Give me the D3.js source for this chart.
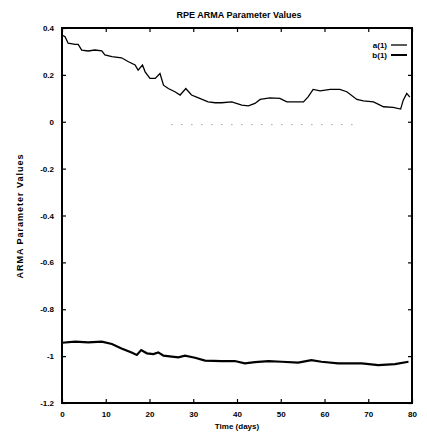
<!DOCTYPE html>
<html>
<head>
<meta charset="utf-8">
<script src="https://cdn.jsdelivr.net/npm/d3@7"></script>
<style>
  body { margin: 0; background: #fff; }
  text { font-family: "Liberation Sans", Arial, sans-serif; font-weight: bold; fill: #000; }
</style>
</head>
<body>
<script>
'use strict';

// a(1) estimate over time: [day, value]
const aSeries = [
    [0, 0.37], [0.7, 0.363], [1.4, 0.335], [3.0, 0.33], [3.7, 0.33], [4.5, 0.306],
    [6.0, 0.302], [7.5, 0.306], [9.1, 0.302], [9.8, 0.285], [11.4, 0.278],
    [13.6, 0.273], [15.2, 0.256], [16.7, 0.242], [17.4, 0.22], [18.4, 0.242],
    [19.0, 0.213], [20.1, 0.185], [21.3, 0.185], [22.4, 0.206], [23.2, 0.156],
    [24.3, 0.142], [25.8, 0.128], [27.0, 0.114], [28.3, 0.142], [29.6, 0.114],
    [31.2, 0.102], [33.4, 0.085], [35.0, 0.081], [36.5, 0.081], [38.8, 0.085],
    [41.1, 0.071], [42.6, 0.068], [44.1, 0.078], [45.3, 0.095], [47.5, 0.102],
    [49.8, 0.1], [51.4, 0.085], [53.6, 0.085], [55.2, 0.085], [56.3, 0.107],
    [57.4, 0.138], [59.0, 0.132], [61.3, 0.138], [63.5, 0.138], [65.1, 0.128],
    [67.4, 0.095], [68.9, 0.089], [71.2, 0.085], [73.5, 0.064], [75.7, 0.061],
    [77.4, 0.054], [78.0, 0.092], [78.8, 0.121], [79.5, 0.105]
];

// b(1) estimate over time
const bSeries = [
    [0, -0.943], [3.0, -0.938], [6.0, -0.941], [9.1, -0.938], [11.4, -0.948],
    [13.6, -0.967], [15.9, -0.985], [17.1, -0.995], [18.1, -0.974], [19.4, -0.988],
    [20.9, -0.991], [22.0, -0.984], [23.2, -0.998], [25.1, -1.002], [26.6, -1.005],
    [28.1, -0.998], [30.4, -1.007], [32.7, -1.019], [36.5, -1.021], [39.5, -1.021],
    [41.8, -1.031], [44.1, -1.026], [47.2, -1.021], [50.2, -1.024], [54.0, -1.028],
    [57.0, -1.017], [59.3, -1.024], [63.1, -1.031], [68.5, -1.031], [72.3, -1.038],
    [76.1, -1.034], [79.2, -1.024]
];

// faint dotted trace near zero
const zeroTrace = [[25, -0.012], [67, -0.012]];

const xTicks = [0, 10, 20, 30, 40, 50, 60, 70, 80];
const yTicks = [0.4, 0.2, 0, -0.2, -0.4, -0.6, -0.8, -1, -1.2];
const legendNames = ["a(1)", "b(1)"];

const box = { left: 62, right: 412, top: 28, bottom: 403 };

let svg = d3.select("body").append("svg")
    .attr("width", 427)
    .attr("height", 432);

let x = d3.scaleLinear().domain([0, 80]).range([box.left, box.right]);
let y = d3.scaleLinear().domain([-1.2, 0.4]).range([box.bottom, box.top]);

let line = d3.line()
    .x(d => x(d[0]))
    .y(d => y(d[1]));

// ticks pointing inward on all four sides
svg.append("g")
    .attr("transform", "translate(0," + box.bottom + ")")
    .call(d3.axisBottom(x).tickValues(xTicks).tickSizeInner(-4).tickSizeOuter(0).tickPadding(8))
    .call(g => g.select(".domain").remove());
svg.append("g")
    .attr("transform", "translate(0," + box.top + ")")
    .call(d3.axisTop(x).tickValues(xTicks).tickSizeInner(-4).tickSizeOuter(0).tickFormat(""))
    .call(g => g.select(".domain").remove());
svg.append("g")
    .attr("transform", "translate(" + box.left + ",0)")
    .call(d3.axisLeft(y).tickValues(yTicks).tickSizeInner(-4).tickSizeOuter(0).tickPadding(8)
        .tickFormat(d => String(d)))
    .call(g => g.select(".domain").remove());
svg.append("g")
    .attr("transform", "translate(" + box.right + ",0)")
    .call(d3.axisRight(y).tickValues(yTicks).tickSizeInner(-4).tickSizeOuter(0).tickFormat(""))
    .call(g => g.select(".domain").remove());

svg.selectAll(".tick line").attr("stroke", "#000").attr("stroke-width", 1.2);
svg.selectAll(".tick text").attr("font-size", 8).attr("font-family", "Liberation Sans, Arial, sans-serif").attr("font-weight", "bold");

svg.append("rect")
    .attr("x", box.left).attr("y", box.top)
    .attr("width", box.right - box.left).attr("height", box.bottom - box.top)
    .attr("fill", "none").attr("stroke", "#000").attr("stroke-width", 2);

svg.append("path").datum(zeroTrace)
    .attr("d", line).attr("fill", "none")
    .attr("stroke", "#777").attr("stroke-width", 1)
    .attr("stroke-dasharray", "1,9");

svg.append("path").datum(aSeries)
    .attr("d", line).attr("fill", "none")
    .attr("stroke", "#000").attr("stroke-width", 1.3);

svg.append("path").datum(bSeries)
    .attr("d", line).attr("fill", "none")
    .attr("stroke", "#000").attr("stroke-width", 2.2);

// legend
let legend = svg.append("g");
legendNames.forEach(function(name, i) {
    let ly = 45 + i * 10;
    legend.append("text").attr("x", 387).attr("y", ly + 3)
        .attr("text-anchor", "end").attr("font-size", 8).text(name);
    legend.append("line")
        .attr("x1", 391).attr("x2", 407).attr("y1", ly).attr("y2", ly)
        .attr("stroke", "#000").attr("stroke-width", i == 0 ? 1.3 : 2);
});

svg.append("text")
    .attr("x", 239).attr("y", 18)
    .attr("text-anchor", "middle").attr("font-size", 9)
    .text("RPE ARMA Parameter Values");

svg.append("text")
    .attr("x", 237).attr("y", 429)
    .attr("text-anchor", "middle").attr("font-size", 8)
    .text("Time (days)");

svg.append("text")
    .attr("transform", "translate(23,216) rotate(-90)")
    .attr("text-anchor", "middle").attr("font-size", 9)
    .attr("letter-spacing", 1)
    .text("ARMA Parameter Values");
</script>
</body>
</html>
